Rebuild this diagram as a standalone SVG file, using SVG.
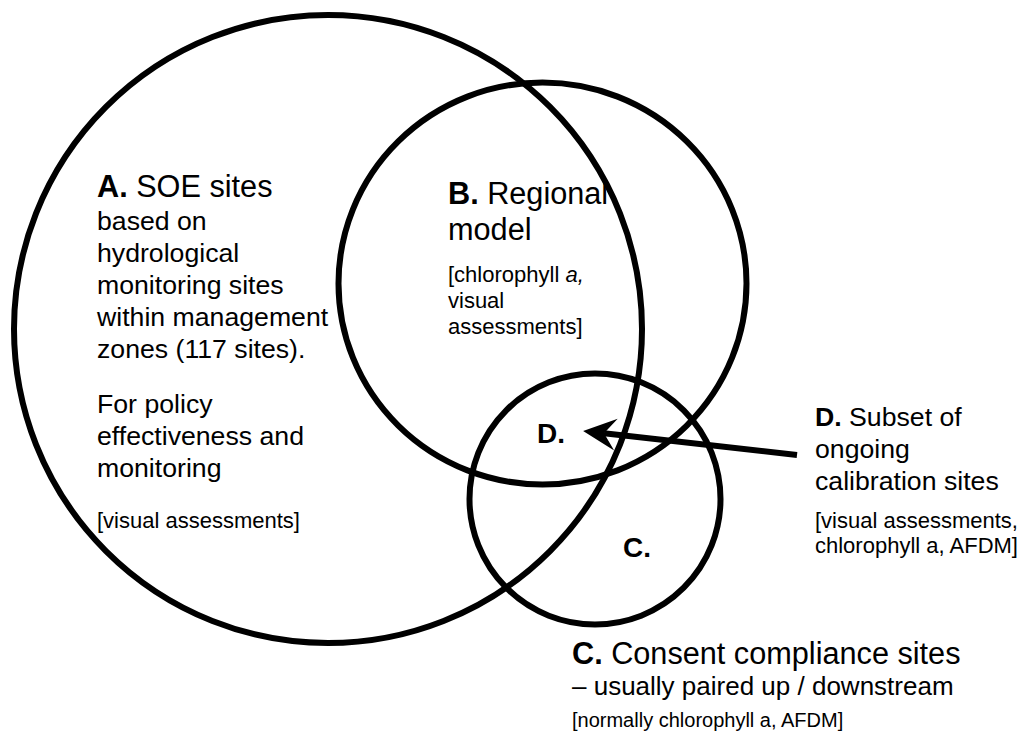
<svg xmlns="http://www.w3.org/2000/svg" width="1022" height="740" viewBox="0 0 1022 740">
<style>
text{font-family:"Liberation Sans",Arial,sans-serif;fill:#000}
.h{font-size:30.67px}
.t{font-size:26.67px}
.t2{font-size:26px}
.s{font-size:22px}
.s2{font-size:20px}
.lb{font-size:28px;font-weight:bold}
.b{font-weight:bold}
.ring{fill:none;stroke:#000;stroke-width:6}
</style>
<defs>
<marker id="ah" markerUnits="userSpaceOnUse" viewBox="0 0 34 34" markerWidth="34" markerHeight="34" refX="12" refY="17" orient="auto">
<path d="M0,1 L33,17 L0,33 L12,17 Z" fill="#000"/>
</marker>
</defs>
<rect width="1022" height="740" fill="#fff"/>
<g id="nodeA">
<circle class="ring" cx="328" cy="329" r="314"/>
<text x="97" y="197" class="h"><tspan class="b">A.</tspan> SOE sites</text>
<text class="t"><tspan x="97" y="230">based on</tspan><tspan x="97" y="262">hydrological</tspan><tspan x="97" y="294">monitoring sites</tspan><tspan x="97" y="326">within management</tspan><tspan x="97" y="358">zones (117 sites).</tspan></text>
<text class="t"><tspan x="97" y="413">For policy</tspan><tspan x="97" y="445">effectiveness and</tspan><tspan x="97" y="477">monitoring</tspan></text>
<text x="97" y="528" class="s">[visual assessments]</text>
</g>
<g id="nodeB">
<ellipse class="ring" cx="542.5" cy="283.5" rx="204" ry="201"/>
<text x="448" y="204" class="h"><tspan class="b">B.</tspan> Regional</text>
<text x="448" y="240" class="h">model</text>
<text class="s"><tspan x="448" y="282">[chlorophyll <tspan font-style="italic">a,</tspan></tspan><tspan x="448" y="308">visual</tspan><tspan x="448" y="334">assessments]</tspan></text>
</g>
<g id="nodeC">
<circle class="ring" cx="595" cy="499" r="125.5"/>
<text x="623" y="557" class="lb">C.</text>
<text x="572" y="664" class="h"><tspan class="b">C.</tspan> Consent compliance sites</text>
<text x="572" y="695" class="t2">– usually paired up / downstream</text>
<text x="572" y="727" class="s2">[normally chlorophyll a, AFDM]</text>
</g>
<g id="nodeD">
<text x="537" y="443" class="lb">D.</text>
<text class="t"><tspan x="815" y="426"><tspan class="b">D.</tspan> Subset of</tspan><tspan x="815" y="458">ongoing</tspan><tspan x="815" y="490">calibration sites</tspan></text>
<text class="s"><tspan x="815" y="528">[visual assessments,</tspan><tspan x="815" y="553">chlorophyll a, AFDM]</tspan></text>
</g>
<g id="connectors">
<line x1="797" y1="455" x2="604" y2="433.3" stroke="#000" stroke-width="6" marker-end="url(#ah)"/>
</g>
</svg>
